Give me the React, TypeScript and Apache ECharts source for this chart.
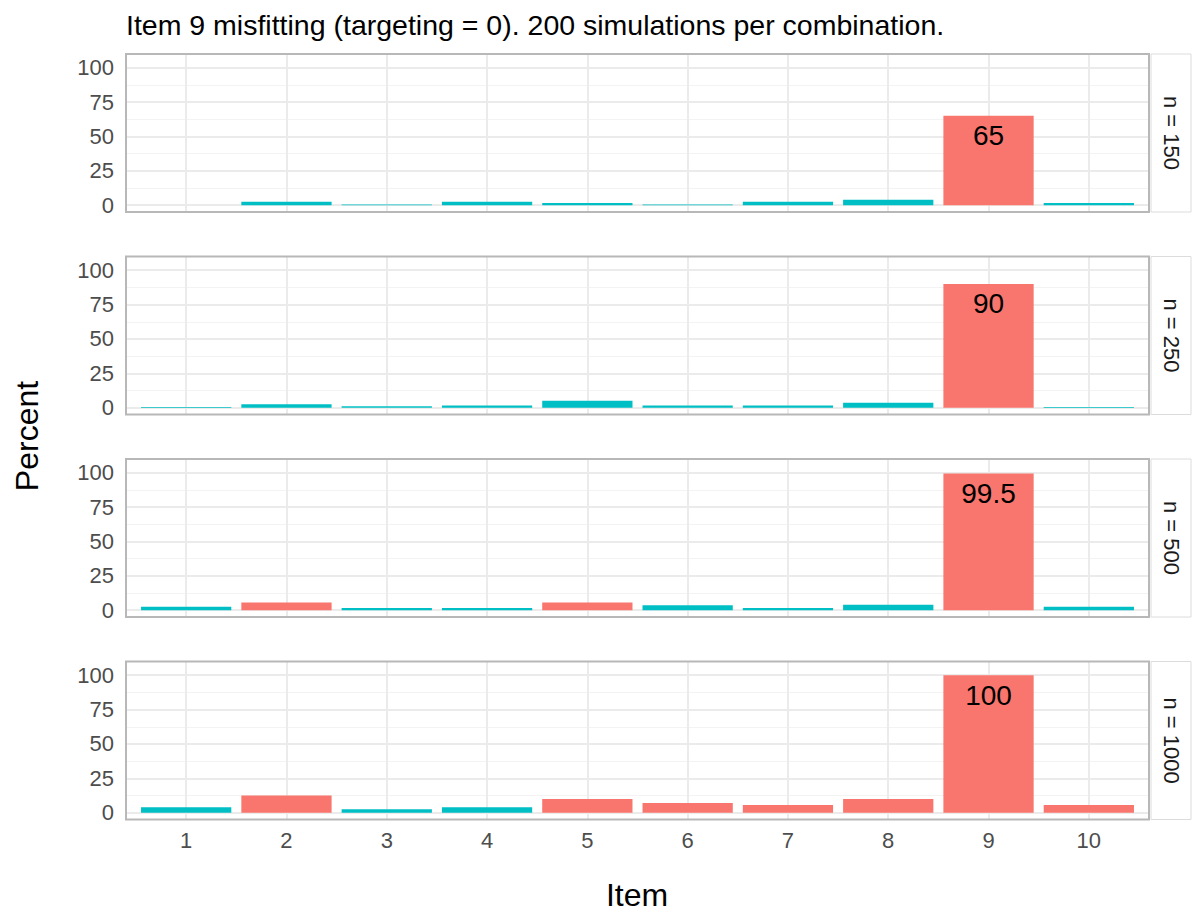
import React, { useEffect, useRef } from "react";
import * as echarts from "echarts";

// Items on the x axis
const items = [1, 2, 3, 4, 5, 6, 7, 8, 9, 10];

// Percent of simulations flagging each item as misfitting, by sample size
const pctN150 = [0, 2.5, 0.5, 2.5, 1.5, 0.5, 2.5, 4, 65, 1.5];
const pctN250 = [0.5, 2.5, 1, 1.5, 5, 1.5, 1.5, 3.5, 90, 0.5];
const pctN500 = [2.5, 5.5, 1.5, 1.5, 5.5, 3.5, 1.5, 4, 99.5, 2.5];
const pctN1000 = [4, 12.5, 2.5, 4, 10, 7, 5.5, 10, 100, 5.5];

const panelLabels = ["n = 150", "n = 250", "n = 500", "n = 1000"];
const panelValues = [pctN150, pctN250, pctN500, pctN1000];

const yMajorTicks = [0, 25, 50, 75, 100];
const yMinorTicks = [12.5, 37.5, 62.5, 87.5];

const titleText = "Item 9 misfitting (targeting = 0). 200 simulations per combination.";
const xTitle = "Item";
const yTitle = "Percent";

// The misfitting item carries a value label
const labelledItem = 9;
// Items above this percentage are highlighted
const highlightAbove = 5;

const RED = "#F8766D";
const TEAL = "#00BFC4";
const FONT = "'Liberation Sans', Arial, Helvetica, sans-serif";

export default function App() {
  const ref = useRef<HTMLDivElement>(null);

  useEffect(() => {
    document.body.style.margin = "0";
    if (!ref.current) return;
    const chart = echarts.init(ref.current, null, { renderer: "svg" });

    const left = 126;
    const width = 1023;
    const height = 158;
    const tops = [54, 256.5, 459, 661.5];

    const grids: any[] = [];
    const xAxes: any[] = [];
    const yAxes: any[] = [];
    const series: any[] = [];
    const graphics: any[] = [];

    panelValues.forEach((vals, i) => {
      const top = tops[i];
      grids.push({ left, top, width, height, containLabel: false });
      xAxes.push({
        type: "value",
        gridIndex: i,
        min: 0.4,
        max: 10.6,
        axisLine: { show: false },
        axisTick: { show: false, customValues: items },
        axisLabel: {
          show: i === panelValues.length - 1,
          customValues: items,
          color: "#4d4d4d",
          fontSize: 22,
          fontFamily: FONT,
          margin: 10,
        },
        splitLine: { show: true, lineStyle: { color: "#ebebeb", width: 2 } },
      });
      yAxes.push({
        type: "value",
        gridIndex: i,
        min: -5,
        max: 110,
        axisLine: { show: false },
        axisTick: { show: false, customValues: yMajorTicks },
        axisLabel: {
          customValues: yMajorTicks,
          color: "#4d4d4d",
          fontSize: 22,
          fontFamily: FONT,
          margin: 12,
        },
        splitLine: { show: true, lineStyle: { color: "#ebebeb", width: 2 } },
      });
      yAxes.push({
        type: "value",
        gridIndex: i,
        position: "right",
        min: -5,
        max: 110,
        axisLine: { show: false },
        axisTick: { show: false, customValues: yMinorTicks },
        axisLabel: { show: false, customValues: yMinorTicks },
        splitLine: { show: true, lineStyle: { color: "#f3f3f3", width: 1 } },
      });
      series.push({
        type: "bar",
        xAxisIndex: i,
        yAxisIndex: i * 2,
        barWidth: "90%",
        data: vals.map((v, j) => ({
          value: [items[j], v],
          itemStyle: { color: v > highlightAbove ? RED : TEAL },
          label: {
            show: items[j] === labelledItem,
            position: "insideTop",
            distance: 6,
            formatter: String(v),
            color: "#000",
            fontSize: 28,
            fontFamily: FONT,
          },
        })),
      });

      // panel border
      graphics.push({
        type: "rect",
        shape: { x: left, y: top, width, height },
        style: { fill: "none", stroke: "#b8b8b8", lineWidth: 2 },
        z: 10,
      });
      // facet strip
      graphics.push({
        type: "rect",
        shape: { x: 1151, y: top, width: 40, height },
        style: { fill: "#fff", stroke: "#dcdcdc", lineWidth: 1 },
        z: 10,
      });
      graphics.push({
        type: "text",
        x: 1171,
        y: top + height / 2,
        rotation: -Math.PI / 2,
        style: {
          text: panelLabels[i],
          fill: "#1a1a1a",
          font: `22px ${FONT}`,
          align: "center",
          verticalAlign: "middle",
        },
        z: 11,
      });
    });

    graphics.push({
      type: "text",
      x: 126,
      y: 25,
      style: {
        text: titleText,
        fill: "#000",
        font: `28.5px ${FONT}`,
        align: "left",
        verticalAlign: "middle",
      },
    });
    graphics.push({
      type: "text",
      x: 637,
      y: 895,
      style: {
        text: xTitle,
        fill: "#000",
        font: `32px ${FONT}`,
        align: "center",
        verticalAlign: "middle",
      },
    });
    graphics.push({
      type: "text",
      x: 27,
      y: 436,
      rotation: Math.PI / 2,
      style: {
        text: yTitle,
        fill: "#000",
        font: `32px ${FONT}`,
        align: "center",
        verticalAlign: "middle",
      },
    });

    chart.setOption({
      animation: false,
      backgroundColor: "#fff",
      grid: grids,
      xAxis: xAxes,
      yAxis: yAxes,
      series,
      graphic: graphics,
    });

    return () => chart.dispose();
  }, []);

  return <div ref={ref} style={{ width: 1192, height: 914 }} />;
}
